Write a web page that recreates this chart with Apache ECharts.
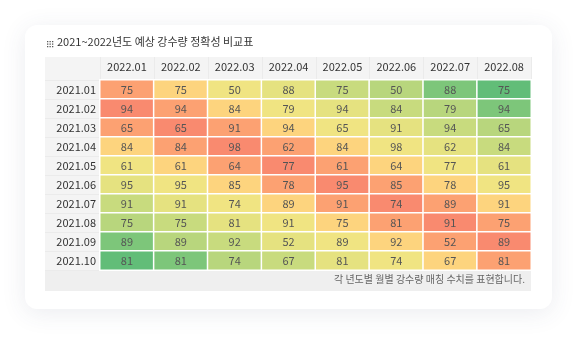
<!DOCTYPE html>
<html>
<head>
<meta charset="utf-8">
<script src="https://cdn.jsdelivr.net/npm/echarts@6/dist/echarts.min.js"></script>
<style>
  html, body { margin: 0; padding: 0; background: #fff; }
  #main { width: 587px; height: 346px; }
</style>
</head>
<body>
<div id="main"></div>
<script>
var titleText = '2021~2022년도 예상 강수량 정확성 비교표';
var footText = '각 년도별 월별 강수량 매칭 수치를 표현합니다.';

// columns (2022) and rows (2021)
var months2022 = ['2022.01', '2022.02', '2022.03', '2022.04', '2022.05', '2022.06', '2022.07', '2022.08'];
var months2021 = ['2021.01', '2021.02', '2021.03', '2021.04', '2021.05', '2021.06', '2021.07', '2021.08', '2021.09', '2021.10'];

// matching values, one row per 2021 month
var matchValues = [
    [75, 75, 50, 88, 75, 50, 88, 75],
    [94, 94, 84, 79, 94, 84, 79, 94],
    [65, 65, 91, 94, 65, 91, 94, 65],
    [84, 84, 98, 62, 84, 98, 62, 84],
    [61, 61, 64, 77, 61, 64, 77, 61],
    [95, 95, 85, 78, 95, 85, 78, 95],
    [91, 91, 74, 89, 91, 74, 89, 91],
    [75, 75, 81, 91, 75, 81, 91, 75],
    [89, 89, 92, 52, 89, 92, 52, 89],
    [81, 81, 74, 67, 81, 74, 67, 81]
];

// colour step of each cell as seen in the picture (0 = red ... 8 = green)
var colorLevels = [
    [1, 2, 3, 4, 5, 6, 7, 8],
    [0, 1, 2, 3, 4, 5, 6, 7],
    [1, 0, 1, 2, 3, 4, 5, 6],
    [2, 1, 0, 1, 2, 3, 4, 5],
    [3, 2, 1, 0, 1, 2, 3, 4],
    [4, 3, 2, 1, 0, 1, 2, 3],
    [5, 4, 3, 2, 1, 0, 1, 2],
    [6, 5, 4, 3, 2, 1, 0, 1],
    [7, 6, 5, 4, 3, 2, 1, 0],
    [8, 7, 6, 5, 4, 3, 2, 1]
];

var levelColors = ['#f98a6f', '#fca172', '#fdd47e', '#f0e482', '#e5e280', '#c8db7e', '#b8d67d', '#7dc67a', '#62bd78'];

var font = '"Noto Sans CJK KR", "Noto Sans", sans-serif';

// table layout
var tLeft = 45, tRight = 531, headTop = 57, bodyTop = 80, rowH = 19, labelW = 55;
var bodyBottom = bodyTop + rowH * months2021.length;
var footH = 21;

var cells = [];
for (var r = 0; r < months2021.length; r++) {
    for (var c = 0; c < months2022.length; c++) {
        cells.push([c, r, matchValues[r][c], colorLevels[r][c]]);
    }
}

var pieces = levelColors.map(function (col, i) {
    return {value: i, color: col};
});

var gridLeft = tLeft + labelW;
var gridW = tRight - gridLeft;
var colW = gridW / months2022.length;

var graphics = [
    {
        type: 'rect', z: -10,
        shape: {x: 25, y: 25, width: 527, height: 284, r: 12},
        style: {fill: '#fff', shadowBlur: 24, shadowColor: 'rgba(60,70,110,0.10)', shadowOffsetY: 4}
    },
    // header band
    {
        type: 'rect', z: -5,
        shape: {x: tLeft, y: headTop, width: tRight - tLeft, height: bodyTop - headTop},
        style: {fill: '#f4f4f4'}
    },
    // row label column
    {
        type: 'rect', z: -5,
        shape: {x: tLeft, y: bodyTop, width: labelW, height: bodyBottom - bodyTop},
        style: {fill: '#f4f4f4'}
    },
    // footer
    {
        type: 'rect', z: -5,
        shape: {x: tLeft, y: bodyBottom, width: tRight - tLeft, height: footH},
        style: {fill: '#efefef'}
    },
    {
        type: 'text', left: 57, top: 36,
        style: {text: titleText, font: '11px ' + font, fill: '#333'}
    },
    {
        type: 'text', right: 587 - 525, top: bodyBottom + 4,
        style: {text: footText, font: '10px ' + font, fill: '#666', textAlign: 'right'}
    }
];

// little 3x3 dot icon before the title
for (var di = 0; di < 3; di++) {
    for (var dj = 0; dj < 3; dj++) {
        graphics.push({
            type: 'rect', z: 1,
            shape: {x: 47 + dj * 2.5, y: 41 + di * 2.5, width: 1.3, height: 1.3},
            style: {fill: '#555'}
        });
    }
}

// thin separators in header and label column
for (var i = 0; i <= months2022.length; i++) {
    var x = Math.round(gridLeft + colW * i) + 0.5;
    graphics.push({
        type: 'line', z: -4,
        shape: {x1: x, y1: headTop, x2: x, y2: bodyTop},
        style: {stroke: '#ebebeb', lineWidth: 1}
    });
}
for (var j = 0; j <= months2021.length; j++) {
    var y = bodyTop + rowH * j + 0.5;
    graphics.push({
        type: 'line', z: -4,
        shape: {x1: tLeft, y1: y, x2: gridLeft, y2: y},
        style: {stroke: '#ebebeb', lineWidth: 1}
    });
}

var myChart = echarts.init(document.getElementById('main'));

var option = {
    animation: false,
    backgroundColor: '#fff',
    textStyle: {fontFamily: font},
    graphic: graphics,
    grid: {
        left: gridLeft,
        top: bodyTop,
        width: gridW,
        height: bodyBottom - bodyTop
    },
    xAxis: {
        type: 'category',
        position: 'top',
        data: months2022,
        axisLine: {show: false},
        axisTick: {show: false},
        splitLine: {show: false},
        axisLabel: {color: '#333', fontSize: 11, margin: 8, fontFamily: font}
    },
    yAxis: {
        type: 'category',
        inverse: true,
        data: months2021,
        axisLine: {show: false},
        axisTick: {show: false},
        splitLine: {show: false},
        axisLabel: {color: '#333', fontSize: 11, margin: 4, fontFamily: font}
    },
    visualMap: {
        type: 'piecewise',
        show: false,
        dimension: 3,
        pieces: pieces
    },
    series: [
        {
            type: 'heatmap',
            data: cells,
            label: {
                show: true,
                color: '#555',
                fontSize: 11,
                fontFamily: font,
                formatter: function (p) {
                    return p.value[2];
                }
            },
            itemStyle: {borderColor: '#fff', borderWidth: 1.5},
            emphasis: {disabled: true}
        }
    ]
};

myChart.setOption(option);
</script>
</body>
</html>
